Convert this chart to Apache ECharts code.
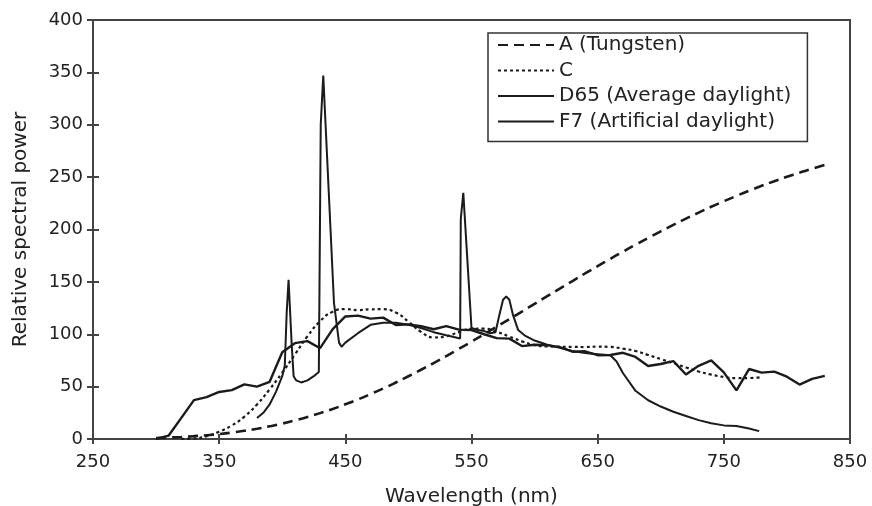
<!DOCTYPE html>
<html>
<head>
<meta charset="utf-8">
<script src="https://cdn.jsdelivr.net/npm/echarts@6/dist/echarts.min.js"></script>
<style>
  html, body { margin: 0; padding: 0; background: #fff; }
  #chart { width: 872px; height: 506px; }
</style>
</head>
<body>
<div id="chart"></div>
<script>
// wavelength grid (nm) shared by A and D65
const wavelengths = [300, 310, 320, 330, 340, 350, 360, 370, 380, 390, 400, 410, 420, 430, 440, 450, 460, 470, 480, 490,
  500, 510, 520, 530, 540, 550, 560, 570, 580, 590, 600, 610, 620, 630, 640, 650, 660, 670, 680, 690,
  700, 710, 720, 730, 740, 750, 760, 770, 780, 790, 800, 810, 820, 830];

const tungstenA = [0.9, 1.4, 1.9, 2.7, 3.6, 4.7, 6.1, 7.8, 9.8, 12.1, 14.7, 17.7, 21.0, 24.7, 28.7, 33.1, 37.8, 42.9, 48.2, 53.9,
  59.9, 66.1, 72.5, 79.1, 86.0, 92.9, 100, 107.2, 114.4, 121.7, 129.0, 136.3, 143.6, 150.8, 158.0, 165.0, 172.0, 178.8, 185.4, 191.9,
  198.3, 204.4, 210.4, 216.1, 221.7, 227.0, 232.1, 237.0, 241.7, 246.1, 250.3, 254.3, 258.1, 261.6];

const d65 = [0.0, 3.3, 20.2, 37.1, 40.0, 44.9, 46.6, 52.1, 50.0, 54.6, 82.8, 91.5, 93.4, 86.7, 104.9, 117.0, 117.8, 114.9, 115.9, 108.8,
  109.4, 107.8, 104.8, 107.7, 104.4, 104.0, 100, 96.3, 95.8, 88.7, 90.0, 89.6, 87.7, 83.3, 83.7, 80.0, 80.2, 82.3, 78.3, 69.7,
  71.6, 74.3, 61.6, 69.9, 75.1, 63.6, 46.4, 66.8, 63.4, 64.3, 59.5, 52.0, 57.4, 60.3];

const cWavelengths = [320, 330, 340, 350, 360, 370, 380, 390, 400, 410, 420, 430, 440, 450, 460, 470, 480, 490,
  500, 510, 520, 530, 540, 550, 560, 570, 580, 590, 600, 610, 620, 630, 640, 650, 660, 670, 680, 690,
  700, 710, 720, 730, 740, 750, 760, 770, 780];
const illumC = [0.0, 0.4, 2.7, 7.0, 12.9, 21.4, 33.0, 47.4, 63.3, 80.6, 98.1, 112.4, 121.5, 124.0, 123.1, 123.8, 123.9, 120.7,
  112.1, 102.3, 96.9, 98.0, 102.1, 105.2, 105.3, 102.3, 97.8, 93.2, 89.7, 88.4, 88.1, 88.0, 87.8, 88.2, 87.9, 86.3, 84.0, 80.2,
  76.3, 72.4, 68.3, 64.4, 61.5, 59.2, 58.1, 58.2, 59.1];

const f7Wavelengths = [380, 385, 390, 395, 400, 402, 403.5, 405, 407.5, 409, 411, 415, 420, 425, 429, 430.5, 432.5, 441, 445, 447,
  450, 460, 470, 480, 490, 500, 510, 520, 530, 541, 541.5, 543.5, 550, 555, 560, 565, 569, 572, 575, 577.5, 580, 583, 587,
  592, 600, 610, 620, 630, 640, 650, 660, 665, 670, 680, 690, 700, 710, 720, 730, 740, 750, 760, 770, 778];
const f7 = [20, 25, 33, 45, 60, 70, 120, 152, 90, 60, 56, 54, 56, 60, 64, 300, 347, 130, 92, 88,
  92, 101, 109, 111, 111, 109, 106, 102, 99, 96, 210, 235, 106, 104, 103, 101, 102, 118, 133, 136, 133, 118, 104,
  99, 94, 90, 87, 84, 82, 81, 80, 74, 63, 46, 37, 31, 26, 22, 18, 15, 13, 12.5, 10, 7.5];

const xTicks = [250, 350, 450, 550, 650, 750, 850];
const yTicks = [0, 50, 100, 150, 200, 250, 300, 350, 400];

const ink = '#1b1b1b';
const axisInk = '#444';
const font = '"DejaVu Sans", sans-serif';

const pairs = (xs, ys) => xs.map((x, i) => [x, ys[i]]);

const chart = echarts.init(document.getElementById('chart'));

const baseX = {
  type: 'value',
  min: 250,
  max: 850,
  position: 'bottom',
  splitLine: { show: false },
  axisLine: { lineStyle: { color: axisInk, width: 2 } }
};
const baseY = {
  type: 'value',
  min: 0,
  max: 400,
  position: 'left',
  splitLine: { show: false },
  axisLine: { lineStyle: { color: axisInk, width: 2 } }
};

const option = {
  animation: false,
  backgroundColor: '#fff',
  textStyle: { fontFamily: font },
  grid: {
    left: 93, right: 22, top: 20, bottom: 67,
    outerBoundsMode: 'none',
    containLabel: false,
    show: true, borderColor: axisInk, borderWidth: 2
  },
  legend: {
    orient: 'vertical',
    left: 488,
    top: 33,
    padding: [2, 16, 10, 9],
    itemGap: 5.5,
    itemWidth: 56,
    itemHeight: 18,
    borderColor: '#333',
    borderWidth: 1.5,
    backgroundColor: '#fff',
    itemStyle: { opacity: 0 },
    textStyle: { fontSize: 20, color: '#222', fontFamily: font },
    data: ['A (Tungsten)', 'C', 'D65 (Average daylight)', 'F7 (Artificial daylight)']
  },
  xAxis: [
    Object.assign({}, baseX, {
      name: 'Wavelength (nm)',
      nameLocation: 'middle',
      nameGap: 48,
      nameTextStyle: { fontSize: 20, color: '#222' },
      axisTick: { inside: false, length: 5, lineStyle: { color: axisInk, width: 2 }, customValues: xTicks },
      axisLabel: { fontSize: 18, color: '#222', margin: 14, customValues: xTicks }
    }),
    Object.assign({}, baseX, {
      axisTick: { inside: true, length: 5, lineStyle: { color: axisInk, width: 2 }, customValues: xTicks },
      axisLabel: { show: false }
    })
  ],
  yAxis: [
    Object.assign({}, baseY, {
      name: 'Relative spectral power',
      nameLocation: 'middle',
      nameGap: 62,
      nameTextStyle: { fontSize: 20, color: '#222' },
      axisTick: { inside: false, length: 6, lineStyle: { color: axisInk, width: 2 }, customValues: yTicks },
      axisLabel: { fontSize: 18, color: '#222', margin: 10, customValues: yTicks }
    }),
    Object.assign({}, baseY, {
      axisTick: { inside: true, length: 6, lineStyle: { color: axisInk, width: 2 }, customValues: yTicks.slice(0, -1) },
      axisLabel: { show: false }
    })
  ],
  series: [
    {
      name: 'A (Tungsten)',
      type: 'line',
      smooth: true,
      symbol: 'none',
      data: pairs(wavelengths, tungstenA),
      itemStyle: { color: ink },
      lineStyle: { color: ink, width: 2.6, type: [10, 6] }
    },
    {
      name: 'C',
      type: 'line',
      smooth: true,
      symbol: 'none',
      data: pairs(cWavelengths, illumC),
      itemStyle: { color: ink },
      lineStyle: { color: ink, width: 2.2, type: [3, 3] }
    },
    {
      name: 'D65 (Average daylight)',
      type: 'line',
      symbol: 'none',
      data: pairs(wavelengths, d65),
      itemStyle: { color: ink },
      lineStyle: { color: ink, width: 2.4 }
    },
    {
      name: 'F7 (Artificial daylight)',
      type: 'line',
      symbol: 'none',
      data: pairs(f7Wavelengths, f7),
      itemStyle: { color: ink },
      lineStyle: { color: ink, width: 2 }
    }
  ]
};

chart.setOption(option);
</script>
</body>
</html>
